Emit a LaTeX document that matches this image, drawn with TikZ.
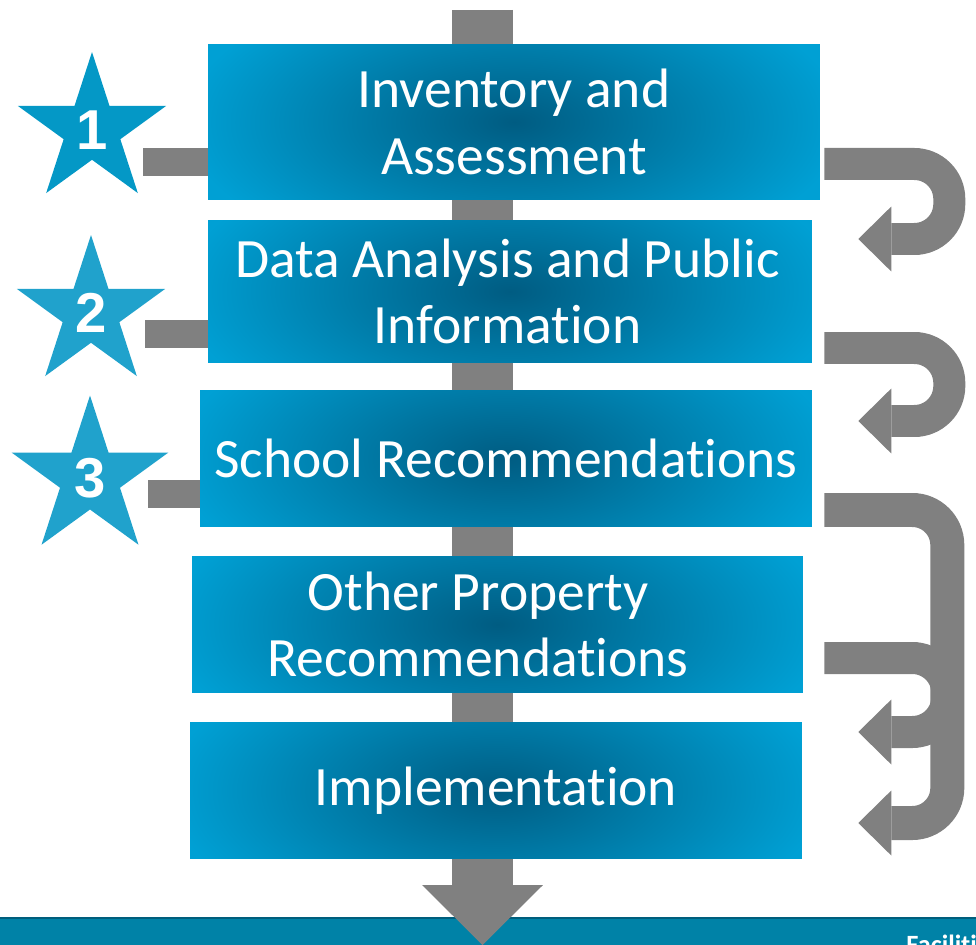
\documentclass[tikz,border=0pt]{standalone}
\usepackage{fontspec}
\setmainfont{Carlito}[RawFeature={-liga;-clig;-calt;-dlig}]
\newfontfamily\numfont{Liberation Sans}
\usepackage{xcolor}
\usepackage{tikz}
\usetikzlibrary{shapes.geometric, arrows.meta}

\definecolor{boxlight}{RGB}{0,160,212}
\definecolor{boxdark}{RGB}{0,92,130}
\definecolor{flowgray}{RGB}{128,128,128}
\definecolor{starone}{RGB}{4,152,198}
\definecolor{startwo}{RGB}{32,162,204}
\definecolor{footer}{RGB}{0,130,167}
\definecolor{footerline}{RGB}{0,94,124}

\tikzset{
  stage/.style={rectangle, fill=boxlight, text=white, align=center, inner sep=0pt,
    font=\fontsize{31.6}{38}\selectfont,
    path picture={\shade[inner color=boxdark, outer color=boxlight]
      (path picture bounding box.center) ellipse (6.6cm and 3cm);}},
  badge/.style={star, star points=5, star point ratio=2.618, inner sep=0pt,
    text=white, font=\numfont\bfseries\fontsize{32}{32}\selectfont},
  link/.style={draw=flowgray, line width=0.56cm},
  spine/.style={draw=flowgray, line width=1.22cm,
    -{Triangle[length=1.2cm, width=2.42cm, line width=0pt]}},
  flow/.style={draw=flowgray, line width=0.64cm, rounded corners=0.7cm,
    -{Triangle[length=0.66cm, width=1.3cm, line width=0pt]}}
}

\begin{document}
\begin{tikzpicture}[x=0.02cm, y=-0.02cm]
    \useasboundingbox (0,0) rectangle (976,945);
    \clip (0,0) rectangle (976,945);

    % Footer band
    \fill[footer] (0,918) rectangle (976,945);
    \draw[footerline, line width=0.04cm] (0,918) -- (976,918);
    \node[anchor=north west, inner sep=0pt, text=white,
          font=\bfseries\fontsize{15}{15}\selectfont] (foot) at (906,935) {Facilities};

    % Main downward arrow behind the stages
    \coordinate (top) at (482.5,10);
    \coordinate (bottom) at (482.5,945);
    \draw[spine] (top) -- (bottom);

    % Stages
    \node[stage, minimum width=12.24cm, minimum height=3.12cm] (inv) at (514,122)
        {Inventory and\\Assessment};
    \node[stage, minimum width=12.08cm, minimum height=2.86cm] (data) at (510,291.5)
        {Data Analysis and Public\hspace*{0.1cm}\\Information\hspace*{0.1cm}};
    \node[stage, minimum width=12.24cm, minimum height=2.74cm] (school) at (506,458.5)
        {School Recommendations};
    \node[stage, minimum width=12.22cm, minimum height=2.74cm] (other) at (497.5,624.5)
        {Other Property\hspace*{0.78cm}\\Recommendations\hspace*{0.78cm}};
    \node[stage, minimum width=12.24cm, minimum height=2.74cm] (impl) at (496,790.5)
        {Implementation};

    % Numbered stars
    \node[badge, fill=starone, minimum size=3.12cm] (s1) at (92,130) {1};
    \node[badge, fill=startwo, minimum size=3.12cm] (s2) at (91,313) {2};
    \node[badge, fill=startwo, minimum size=3.3cm] (s3) at (90,478) {3};
    \draw[link] ([shift={(0,40)}]inv.west) -- ++(-65,0);
    \draw[link] ([shift={(0,42.5)}]data.west) -- ++(-63,0);
    \draw[link] ([shift={(0,35.5)}]school.west) -- ++(-52,0);

    % Feedback loops on the right
    \draw[flow] ([shift={(4,42)}]inv.east) -- ++(125,0) -- ++(0,75)
        -- ([shift={(46,-52.5)}]data.east);
    \draw[flow] ([shift={(12,56.5)}]data.east) -- ++(125,0) -- ++(0,73)
        -- ([shift={(46,-37.5)}]school.east);
    \draw[flow] ([shift={(21,33.5)}]other.east) -- ++(123,0) -- ++(0,74)
        -- ([shift={(56,-58.5)}]impl.east);
    \draw[flow, line width=0.68cm] ([shift={(12,51.5)}]school.east) -- ++(123,0) -- ++(0,313)
        -- ([shift={(56,32.5)}]impl.east);
\end{tikzpicture}
\end{document}
